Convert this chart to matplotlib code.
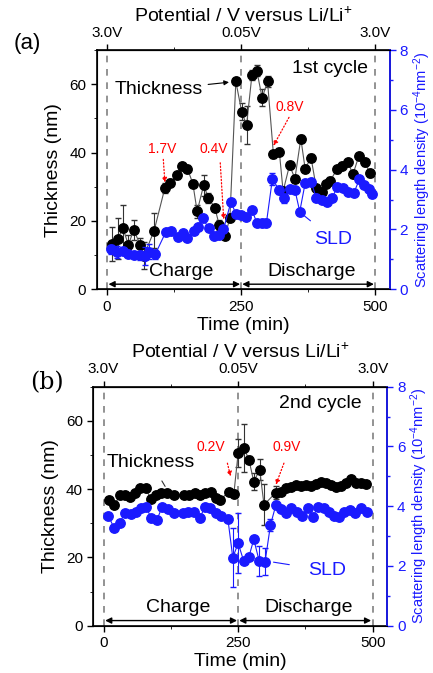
import matplotlib.pyplot as plt

plt.rcParams['font.family'] = ['Liberation Sans', 'DejaVu Sans']
plt.rcParams['mathtext.fontset'] = 'custom'
plt.rcParams['mathtext.rm'] = 'Liberation Sans'
plt.rcParams['mathtext.it'] = 'Liberation Sans:italic'
plt.rcParams['mathtext.default'] = 'regular'

BLUE = '#1a1aff'

# ---- panel (a): 1st cycle ----
t_th_a = [9, 20, 30, 40, 50, 62, 69, 88, 108, 118, 130, 139, 150, 160, 168, 180,
          189, 201, 209, 220, 229, 240, 251, 260, 270, 279, 289, 299, 310, 321, 328,
          340, 350, 361, 369, 380, 390, 400, 408, 416, 428, 438, 449, 458, 469, 480, 490]
th_a = [13.2, 14.8, 17.8, 13.0, 17.4, 13.0, 9.8, 17.2, 29.7, 31.2, 33.3, 36.0, 35.3,
        30.9, 22.8, 30.4, 26.8, 23.8, 18.9, 15.7, 20.9, 60.8, 51.9, 48.0, 62.7, 64.0,
        56.0, 60.8, 39.5, 40.2, 28.7, 36.3, 32.4, 44.1, 35.3, 38.5, 29.5, 28.5, 30.8,
        31.8, 35.1, 36.1, 37.1, 33.6, 39.0, 37.1, 34.0]
th_err_a = [5, 6, 7, 3, 3, 2, 4, 5, 1.5, 1, 1, 1, 1, 1, 2, 3, 1.5, 1, 1.5, 1, 1, 1,
            2.5, 5.5, 1.5, 1.5, 2.5, 1.5, 1, 1, 1, 1, 1, 1, 1, 1, 1, 1, 1, 1, 1, 1,
            1, 1, 1, 1, 1]
t_sld_a = [8, 19, 30, 40, 51, 61, 71, 79, 90, 110, 120, 132, 142, 150, 162, 169, 178,
           190, 200, 209, 217, 231, 240, 250, 259, 270, 279, 288, 297, 308, 321, 329,
           340, 350, 359, 369, 380, 390, 400, 409, 419, 429, 439, 449, 460, 470, 478,
           488, 494]
sld_a = [1.34, 1.26, 1.29, 1.17, 1.15, 1.14, 1.12, 1.26, 1.17, 1.93, 1.96, 1.76, 1.87,
         1.71, 1.96, 2.09, 2.37, 2.04, 1.78, 1.82, 2.00, 2.93, 2.52, 2.48, 2.43, 2.65,
         2.23, 2.23, 2.23, 3.68, 3.32, 3.04, 3.34, 3.32, 2.60, 3.54, 3.60, 3.04, 2.99,
         2.93, 3.04, 3.43, 3.38, 3.26, 3.23, 3.68, 3.49, 3.34, 3.20]
sld_err_a = [0.15, 0.2, 0.1, 0.1, 0.1, 0.15, 0.3, 0.25, 0.15, 0.08, 0.08, 0.08, 0.08,
             0.08, 0.08, 0.08, 0.08, 0.08, 0.08, 0.08, 0.08, 0.08, 0.08, 0.08, 0.08,
             0.08, 0.1, 0.1, 0.12, 0.2, 0.15, 0.15, 0.1, 0.1, 0.08, 0.1, 0.1, 0.1, 0.1,
             0.1, 0.1, 0.1, 0.1, 0.1, 0.1, 0.1, 0.1, 0.1, 0.1]

# ---- panel (b): 2nd cycle ----
t_th_b = [11, 20, 31, 40, 50, 59, 68, 78, 88, 98, 107, 118, 130, 149, 158, 169, 179,
          189, 199, 208, 217, 233, 242, 250, 261, 270, 279, 290, 298, 320, 329, 338,
          348, 357, 366, 376, 385, 394, 404, 413, 422, 432, 441, 450, 459, 468, 478, 488]
th_b = [36.9, 35.4, 38.3, 38.3, 37.8, 39.0, 40.3, 40.3, 37.1, 38.3, 39.0, 39.0, 38.3,
        38.3, 38.3, 39.0, 38.3, 38.8, 39.3, 37.4, 36.9, 39.3, 38.6, 50.6, 52.0, 48.6,
        42.2, 45.7, 35.4, 39.0, 39.3, 40.3, 40.6, 41.3, 41.0, 41.3, 41.0, 41.6, 42.0,
        41.8, 41.3, 40.6, 41.0, 41.8, 43.0, 41.8, 41.8, 41.6]
th_err_b = [0.8] * 22 + [1, 4, 7, 1, 2.5, 3, 6, 2] + [0.8] * 18
t_sld_b = [9, 20, 30, 40, 51, 61, 70, 79, 88, 99, 109, 120, 130, 148, 157, 168, 179,
           188, 197, 208, 219, 231, 240, 250, 260, 270, 279, 289, 300, 310, 320, 329,
           339, 348, 359, 369, 379, 389, 398, 409, 419, 428, 438, 447, 458, 467, 478, 489]
sld_b = [3.67, 3.26, 3.45, 3.78, 3.73, 3.82, 3.93, 3.98, 3.62, 3.54, 3.98, 3.90, 3.76,
         3.76, 3.82, 3.80, 3.60, 3.98, 3.93, 3.76, 3.67, 3.56, 2.28, 2.76, 2.18, 2.31,
         2.89, 2.17, 2.14, 3.37, 4.04, 3.90, 3.78, 3.93, 3.82, 3.67, 3.93, 3.65, 3.98,
         3.93, 3.82, 3.67, 3.65, 3.82, 3.87, 3.76, 3.93, 3.82]
sld_err_b = [0.1] * 22 + [1.0, 1.0, 0.1, 0.1, 0.1, 0.5, 0.45, 0.2] + [0.1] * 18

pot_ticks = [0, 250, 500]
pot_labels = ['3.0V', '0.05V', '3.0V']


def draw_panel(rect, t_th, th, th_err, t_sld, sld, sld_err):
    ax = fig.add_axes(rect)
    ax.set_xlim(-19, 527)
    ax.set_ylim(0, 70)
    ax.set_xticks([0, 250, 500])
    ax.set_xticks([125, 375], minor=True)
    ax.set_yticks([0, 20, 40, 60])
    ax.set_yticks([10, 30, 50, 70], minor=True)
    ax.tick_params(labelsize=11, length=4, width=1)
    ax.tick_params(which='minor', length=2.5)
    for s in ax.spines.values():
        s.set_linewidth(1.2)
    ax.set_xlabel('Time (min)', fontsize=14, labelpad=2)
    ax.set_ylabel('Thickness (nm)', fontsize=14, labelpad=5)

    for x in [0, 250, 500]:
        ax.axvline(x, color='#808080', ls=(0, (4, 4)), lw=1.2, zorder=1)

    ax.errorbar(t_th, th, yerr=th_err, fmt='-o', color='#555555', lw=0.8,
                mfc='black', mec='black', ms=6.8, ecolor='#333333',
                elinewidth=0.8, capsize=2, zorder=3)

    top = ax.secondary_xaxis('top')
    top.set_xticks(pot_ticks, labels=pot_labels)
    top.set_xticks([125, 375], minor=True)
    top.tick_params(labelsize=11, length=4, width=1)
    top.tick_params(which='minor', length=2.5)
    top.set_xlabel('Potential / V versus Li/Li$^{+}$', fontsize=14, labelpad=3)

    ax2 = ax.twinx()
    ax2.set_ylim(0, 8)
    ax2.set_yticks([0, 2, 4, 6, 8])
    ax2.set_yticks([1, 3, 5, 7], minor=True)
    ax2.tick_params(axis='y', which='both', colors=BLUE, labelsize=11, width=1)
    ax2.tick_params(axis='y', which='major', length=4, pad=3)
    ax2.tick_params(axis='y', which='minor', length=2.5)
    ax2.spines['right'].set_color(BLUE)
    ax2.spines['right'].set_linewidth(1.2)
    ax2.set_ylabel('Scattering length density (10$^{-4}$nm$^{-2}$)', color=BLUE,
                   fontsize=10.5, labelpad=2)
    ax2.errorbar(t_sld, sld, yerr=sld_err, fmt='-o', color=BLUE, lw=0.8,
                 mfc=BLUE, mec=BLUE, ms=6.8, ecolor=BLUE, elinewidth=0.8,
                 capsize=2, zorder=3)

    # charge / discharge double arrows
    for x0, x1 in [(3, 248), (252, 497)]:
        ax.annotate('', xy=(x0, 1.5), xytext=(x1, 1.5),
                    arrowprops=dict(arrowstyle='<|-|>', color='black', lw=1,
                                    mutation_scale=9, shrinkA=0, shrinkB=0))
    box = dict(facecolor='white', edgecolor='none', pad=0.5)
    ax.text(139, 5.2, 'Charge', fontsize=14, ha='center', va='center', bbox=box)
    ax.text(381, 5.2, 'Discharge', fontsize=14, ha='center', va='center', bbox=box)
    return ax, ax2


def red_label(ax, text, pos, start, end):
    ax.text(pos[0], pos[1], text, color='red', fontsize=10, ha='center', va='center')
    ax.annotate('', xy=end, xytext=start,
                arrowprops=dict(arrowstyle='-|>', color='red', lw=0.9, ls=':',
                                mutation_scale=7, shrinkA=0, shrinkB=0))


fig = plt.figure(figsize=(4.33, 6.73), dpi=100)

# (a)
ax, ax2 = draw_panel([0.2233, 0.5701, 0.6774, 0.3556],
                     t_th_a, th_a, th_err_a, t_sld_a, sld_a, sld_err_a)
ax.text(415, 64.5, '1st cycle', fontsize=14, ha='center', va='center')
ax.annotate('Thickness', xy=(235, 60.7), xytext=(96, 58.4), fontsize=14,
            ha='center', va='center',
            arrowprops=dict(arrowstyle='-|>', color='black', lw=0.8,
                            mutation_scale=7, shrinkA=2, shrinkB=3))
ax.annotate('SLD', xy=(362, 22.2), xytext=(421, 14.7), fontsize=14, color=BLUE,
            ha='center', va='center',
            arrowprops=dict(arrowstyle='-', color=BLUE, lw=0.8, shrinkA=8, shrinkB=3))
red_label(ax, '1.7V', (102, 41), (105, 38), (108, 31.2))
red_label(ax, '0.4V', (199, 41), (211, 37), (217.5, 20.4))
red_label(ax, '0.8V', (341, 53.3), (339, 50.3), (310, 42))
fig.text(0.062, 0.936, '(a)', fontsize=16, ha='center', va='center')

# (b)
ax, ax2 = draw_panel([0.2155, 0.0703, 0.679, 0.3551],
                     t_th_b, th_b, th_err_b, t_sld_b, sld_b, sld_err_b)
ax.text(402, 65, '2nd cycle', fontsize=14, ha='center', va='center')
ax.annotate('Thickness', xy=(117, 40.1), xytext=(88, 47.8), fontsize=14,
            ha='center', va='center',
            arrowprops=dict(arrowstyle='-', color='#333333', lw=0.8,
                            shrinkA=6, shrinkB=2))
ax.annotate('SLD', xy=(308, 18.8), xytext=(416, 16.1), fontsize=14, color=BLUE,
            ha='center', va='center',
            arrowprops=dict(arrowstyle='-', color=BLUE, lw=0.8, shrinkA=12, shrinkB=3))
red_label(ax, '0.2V', (199, 52.3), (230, 47.6), (236, 43.7))
red_label(ax, '0.9V', (341, 52.3), (335, 47.6), (320, 41.3))
fig.text(0.109, 0.431, '(b)', fontsize=17, ha='center', va='center',
         family='DejaVu Serif')

fig.savefig('out.png', dpi=100)
